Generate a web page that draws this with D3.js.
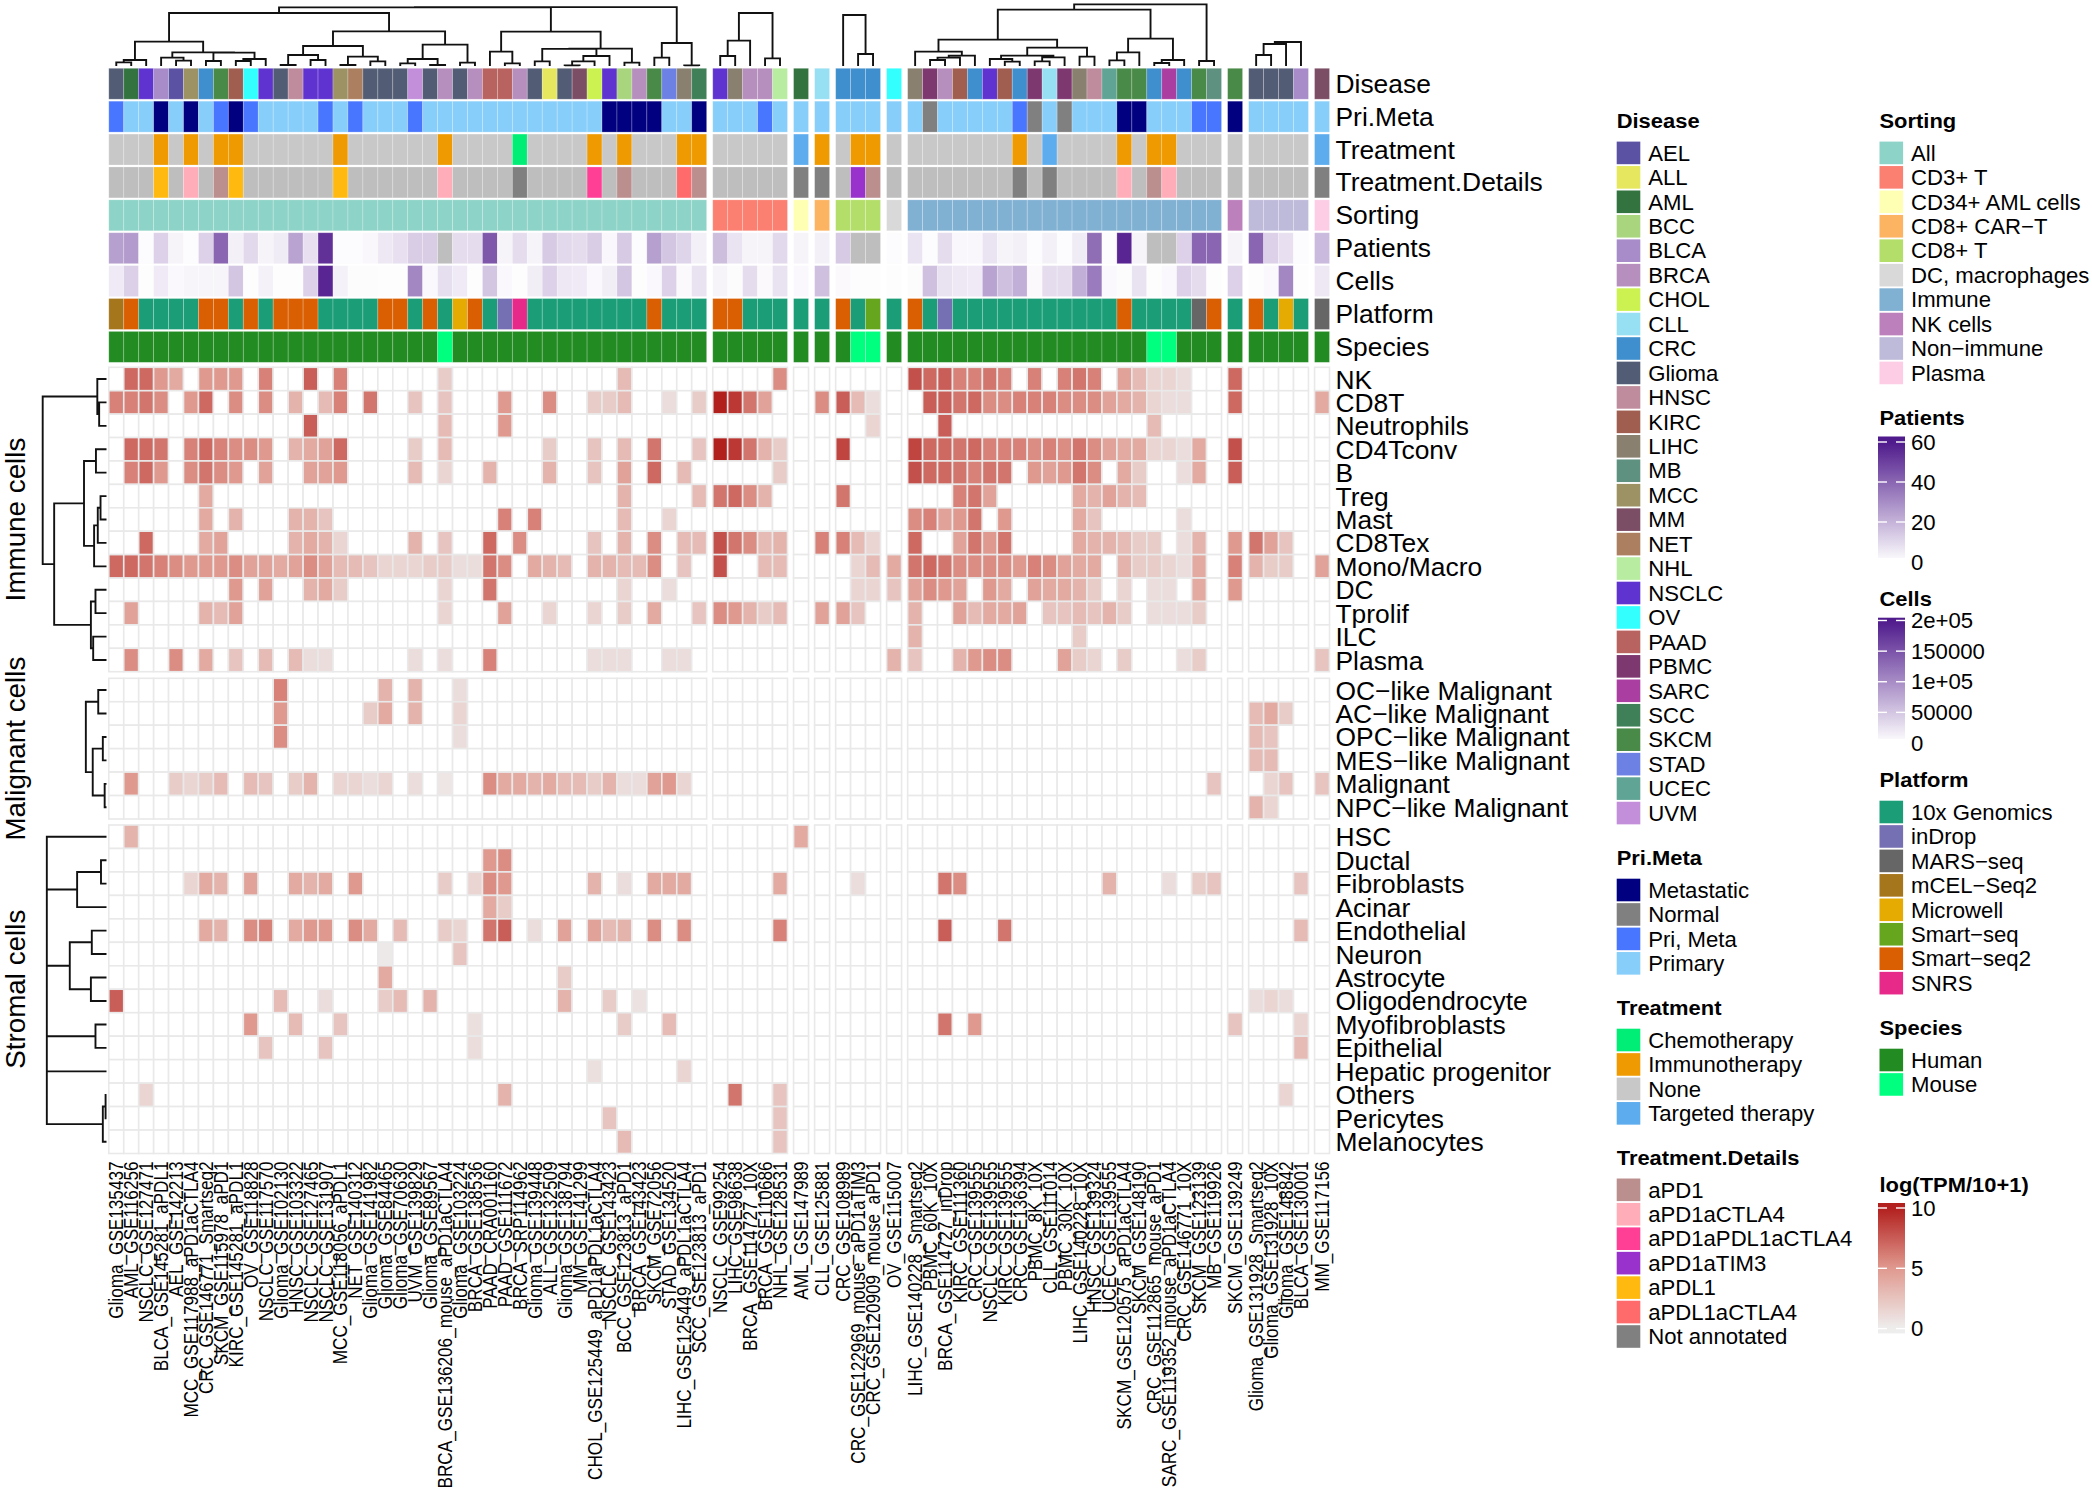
<!DOCTYPE html>
<html><head><meta charset="utf-8">
<script src="https://cdn.jsdelivr.net/npm/d3@7"></script>
<style>html,body{margin:0;background:#fff}svg{display:block}text{font-family:"Liberation Sans",Arial,sans-serif;fill:#000}</style>
</head><body><svg id="c" width="2092" height="1492"></svg>
<script>
// ---------- columns ----------
const blockSizes=[40,5,1,1,3,1,21,1,4,1];
const datasets=["Glioma_GSE135437","AML_GSE116256","NSCLC_GSE127471","BLCA_GSE145281_aPDL1","AEL_GSE142213","MCC_GSE117988_aPD1aCTLA4","CRC_GSE146771_Smartseq2","SKCM_GSE115978_aPD1","KIRC_GSE145281_aPDL1","OV_GSE118828","NSCLC_GSE117570","Glioma_GSE102130","HNSC_GSE103322","NSCLC_GSE127465","NSCLC_GSE131907","MCC_GSE118056_aPDL1","NET_GSE140312","Glioma_GSE141982","Glioma_GSE84465","Glioma_GSE70630","UVM_GSE139829","Glioma_GSE89567","BRCA_GSE136206_mouse_aPD1aCTLA4","Glioma_GSE103224","BRCA_GSE138536","PAAD_CRA001160","PAAD_GSE111672","BRCA_SRP114962","Glioma_GSE139448","ALL_GSE132509","Glioma_GSE138794","MM_GSE141299","CHOL_GSE125449_aPD1aPDL1aCTLA4","NSCLC_GSE143423","BCC_GSE123813_aPD1","BRCA_GSE143423","SKCM_GSE72056","STAD_GSE134520","LIHC_GSE125449_aPDL1aCTLA4","SCC_GSE123813_aPD1",
"NSCLC_GSE99254","LIHC_GSE98638","BRCA_GSE114727_10X","BRCA_GSE110686","NHL_GSE128531",
"AML_GSE147989","CLL_GSE125881",
"CRC_GSE108989","CRC_GSE122969_mouse_aPD1aTIM3","CRC_GSE120909_mouse_aPD1","OV_GSE115007",
"LIHC_GSE140228_Smartseq2","PBMC_60K_10X","BRCA_GSE114727_inDrop","KIRC_GSE111360","CRC_GSE139555","NSCLC_GSE139555","KIRC_GSE139555","CRC_GSE136394","PBMC_8K_10X","CLL_GSE111014","PBMC_30K_10X","LIHC_GSE140228_10X","HNSC_GSE139324","UCEC_GSE139555","SKCM_GSE120575_aPD1aCTLA4","SKCM_GSE148190","CRC_GSE112865_mouse_aPD1","SARC_GSE119352_mouse_aPD1aCTLA4","CRC_GSE146771_10X","SKCM_GSE123139","MB_GSE119926",
"SKCM_GSE139249","Glioma_GSE131928_Smartseq2","Glioma_GSE131928_10X","Glioma_GSE148842","BLCA_GSE130001","MM_GSE117156"];

// ---------- categorical annotation ----------
const diseaseLabels=["AEL","ALL","AML","BCC","BLCA","BRCA","CHOL","CLL","CRC","Glioma","HNSC","KIRC","LIHC","MB","MCC","MM","NET","NHL","NSCLC","OV","PAAD","PBMC","SARC","SCC","SKCM","STAD","UCEC","UVM"];
const diseaseColors=["#5B52A3","#E6E65F","#33733F","#A8D57E","#A78CC9","#B78FBE","#CBF250","#97DFF3","#3F8FCE","#525C74","#BE8C9C","#A05E50","#8A8070","#5F9180","#9C9264","#7C4E66","#AC7F60","#B8ECA0","#5F33CF","#33FFFF","#B8635F","#7E3870","#AB3FA1","#3F8058","#4A8A48","#6D80E3","#5FA495","#C38FDB"];
const diseaseOfColumn=["Glioma","AML","NSCLC","BLCA","AEL","MCC","CRC","SKCM","KIRC","OV","NSCLC","Glioma","HNSC","NSCLC","NSCLC","MCC","NET","Glioma","Glioma","Glioma","UVM","Glioma","BRCA","Glioma","BRCA","PAAD","PAAD","BRCA","Glioma","ALL","Glioma","MM","CHOL","NSCLC","BCC","BRCA","SKCM","STAD","LIHC","SCC",
"NSCLC","LIHC","BRCA","BRCA","NHL","AML","CLL","CRC","CRC","CRC","OV",
"LIHC","PBMC","BRCA","KIRC","CRC","NSCLC","KIRC","CRC","PBMC","CLL","PBMC","LIHC","HNSC","UCEC","SKCM","SKCM","CRC","SARC","CRC","SKCM","MB",
"SKCM","Glioma","Glioma","Glioma","BLCA","MM"];

const priMetaLabels=["Metastatic","Normal","Pri, Meta","Primary"];
const priMetaColors=["#000080","#808080","#4876FF","#87CEFA"];
const priMetaCodes={M:"Metastatic",N:"Normal",B:"Pri, Meta",P:"Primary"};
const priMetaOfColumn="BPPMPMPBMB PPPPBPBPPP BPPPPPPPPP PPPMMMMPPM PPPBP P P PPP P PNPPPPPBNP NPPPMMPPPBB M PPPP P".replace(/ /g,"");

const treatmentLabels=["Chemotherapy","Immunotherapy","None","Targeted therapy"];
const treatmentColors=["#00EE76","#EE9A00","#C8C8C8","#5CACEE"];
const treatmentCodes={C:"Chemotherapy",I:"Immunotherapy",N:"None",T:"Targeted therapy"};
const treatmentOfColumn="NNNININIIN NNNNN INNNN NNINN NNCNN NNINI NNNII NNNNN T I NII N NNNNNNNINT NNNNINIINNN N NNNN T".replace(/ /g,"");

const detailLabels=["aPD1","aPD1aCTLA4","aPD1aPDL1aCTLA4","aPD1aTIM3","aPDL1","aPDL1aCTLA4","Not annotated"];
const detailColors=["#BC8F8F","#FFAEB9","#FF3E96","#9932CC","#FFB90F","#FF6A6A","#808080"];
const detailCodes={a:"aPD1",b:"aPD1aCTLA4",c:"aPD1aPDL1aCTLA4",d:"aPD1aTIM3",e:"aPDL1",f:"aPDL1aCTLA4",n:"Not annotated"};
const detailOfColumn="---e-b-ae- ----- e---- --b-- --n-- --c-a ---fa ----- n n -da - -------n-n ----b-ab--- - ---- n".replace(/ /g,"");
const missingColor="#BEBEBE";

const sortingLabels=["All","CD3+ T","CD34+ AML cells","CD8+ CAR\u2212T","CD8+ T","DC, macrophages","Immune","NK cells","Non\u2212immune","Plasma"];
const sortingColors=["#8DD3C7","#FB8072","#FFFFB3","#FDB462","#B3DE69","#D9D9D9","#80B1D3","#BC80BD","#BEBADA","#FCCDE5"];
const sortingOfBlock=sortingLabels; // each column block holds one sorting level, in legend order

const platformLabels=["10x Genomics","inDrop","MARS\u2212seq","mCEL\u2212Seq2","Microwell","Smart\u2212seq","Smart\u2212seq2","SNRS"];
const platformColors=["#1B9E77","#7570B3","#666666","#A6761D","#E6AB02","#66A61E","#D95F02","#E7298A"];
const platformCodes={x:platformLabels[0],i:platformLabels[1],m:platformLabels[2],c:platformLabels[3],w:platformLabels[4],s:platformLabels[5],S:platformLabels[6],n:platformLabels[7]};
const platformOfColumn="cSxxxxSSxS xSSSx xxxSS xSxwS xinxx xxxxx xSxxx SSxxx x x Sxs x Sxixxxxxxx xxxxSxxxxmS x Sxwx m".replace(/ /g,"");

const speciesLabels=["Human","Mouse"];
const speciesColors=["#228B22","#00FF7F"];
const speciesOfColumn="hhhhhhhhhh hhhhhhhhhh hhmhh hhhhh hhhhh hhhhh hhhhh h h hmm h hhhhhhhhhh hhhhhhmmhhh h hhhh h".replace(/ /g,"");

// ---------- numeric annotation ----------
const patients=[25,26,1,12,3,1,12,40,4,10,3,5,24,8,54,1,1,2,6,8,13,13,null,9,9,44,3,9,3,14,10,9,13,2,14,1,25,15,11,4,
17,7,3,3,10, 3, 4, 14,null,null, 1,
7,1,9,2,2,7,3,4,1,4,1,5,38,1,57,3,null,null,12,40,40, 3, 40,12,8,1, 18];
const cellCounts=[18000,41000,2000,18000,6000,9000,9000,9000,50000,2000,12000,2000,2000,40000,190000,12000,3000,3000,2000,2000,105000,6000,28000,18000,2000,50000,6000,2000,15000,40000,20000,18000,6000,15000,50000,2000,6000,40000,5000,25000,
10000,3000,30000,5000,25000, 6000, 55000, 5000,2000,2000, 2000,
3000,55000,25000,20000,18000,80000,55000,70000,5000,30000,30000,70000,115000,6000,3000,25000,2000,6000,40000,30000,2000, 40000, 2000,6000,105000,2000, 20000];

// ---------- expression, keyed by 1-based column ----------
const NK={2:7,3:7,4:5,5:4,7:5,8:5,9:5,11:6,14:7.5,16:6,23:2,35:3,45:5.5,52:8,53:7,54:7.5,55:6,56:6,57:6.5,58:6,60:6,62:6,63:6.5,64:6,66:4.5,67:3,68:1.5,69:1.5,70:1,73:7};
const CD8T={1:6,2:6,3:6.5,4:5.5,6:5,7:7,9:5.5,11:5.5,13:3.5,15:3,16:6,18:6.5,21:2.5,23:2.5,27:5,30:5.5,33:2,34:2,35:3,38:1,40:2,41:10,42:9,43:6.5,44:4.5,47:5.5,48:7.5,49:3,50:1,53:7.5,54:7.5,55:6.5,56:7,57:5.5,58:5.5,59:6,60:6,61:6,62:5.5,63:5.5,64:5.5,65:4.5,66:4,67:3.5,68:1.5,69:1,70:1,73:7,78:4};
const Neutrophils={14:7.5,23:3,27:5,50:1.5,54:7.5,68:3};
const CD4Tconv={2:7,3:7,4:6.5,6:6,7:7,8:6,9:5.5,10:5.5,11:5,13:3.5,14:4,15:4.5,16:7,21:2,23:3,30:2,33:2.5,35:3,37:6.5,40:2.5,41:10,42:9,43:6.5,44:3.5,45:2,48:8.5,52:8.5,53:7,54:7,55:6.5,56:7,57:6,58:6,59:6,60:5.5,61:6,62:5.5,63:6.5,64:5.5,65:4.5,66:4,67:4,68:1.5,69:1.5,70:1,71:4,73:8};
const Bcell={2:6,3:7,4:5,6:5.5,7:6.5,8:5.5,9:5,11:4.5,14:4.5,15:4.5,16:5,21:3,23:1.5,26:3.5,30:3.5,33:2.5,35:4.5,37:7,39:3,45:2,52:8,53:7,54:7,55:6.5,56:6,57:6.5,58:6.5,60:5,61:4.5,62:5,63:6.5,64:5.5,66:4,67:2,70:1,71:4,73:7.5};
const Treg={7:4,35:3.5,40:3,41:6.5,42:7,43:5.5,44:3.5,48:6.5,55:6,56:6.5,57:4.5,63:4,64:3.5,65:4.5,66:3.5,67:3};
const Mast={7:4,9:3.5,13:3.5,14:3.5,15:2.5,27:6,29:6,35:3,38:1.5,52:5.5,53:6,54:4.5,55:5,56:6.5,58:5,63:4,64:2.5,70:1};
const CD8Tex={3:7,7:4,8:4.5,13:3.5,14:4,15:3.5,16:1.5,21:3.5,23:2.5,26:7,28:5.5,33:2.5,35:3.5,37:5.5,39:3,40:3,41:8,42:6.5,43:5.5,44:3,45:3.5,47:6,48:6,49:3,50:1.5,52:7,55:4.5,56:6.5,57:5,58:6.5,63:4,64:3.5,65:3.5,66:3,67:2,68:2,70:1,71:3.5,73:5,74:6.5,75:4.5,76:2.5};
const MonoMacro={1:7,2:7,3:6.5,4:6,5:5.5,6:5,7:5,8:5,9:5.5,10:4.5,11:4.5,12:4,13:4.5,14:5.5,15:4.5,16:3,17:3,18:2.5,19:1.5,20:1.5,21:1.5,22:2,23:2,24:1,25:1,26:6.5,27:5.5,29:4,30:3.5,31:3,33:3.5,34:3.5,35:3,36:3,37:5.5,39:2.5,41:8,44:3,45:3,49:1.5,50:3,51:4,52:6.5,53:7,54:6.5,55:5.5,56:5.5,57:5.5,58:5.5,59:5,60:6,61:5.5,62:4.5,63:4,64:4,66:3.5,67:2,68:2,69:1.5,70:1,71:4,73:6,74:3.5,75:2,76:2,78:4.5};
const DC={9:5,11:4.5,14:3.5,15:4,16:2,23:1.5,26:6.5,35:1.5,38:1,49:1.5,50:1.5,51:2.5,52:4.5,53:5.5,54:5,55:4.5,57:5,58:4,60:4.5,61:4,62:4,63:3.5,64:2,66:1.5,68:1,69:1,71:4,73:5};
const Tprolif={2:4.5,7:3.5,8:3,9:4.5,23:1.5,27:4.5,30:1.5,33:1.5,35:2,37:4,40:2.5,41:5.5,42:5,43:3.5,44:2,45:3,47:4.5,48:4.5,49:2.5,52:3.5,55:4.5,56:3,57:4,58:4,59:4.5,61:2.5,62:2.5,63:3,64:2.5,65:3.5,66:2,68:1,69:1,70:1,71:2};
const ILC={52:3.5,63:2};
const Plasma={2:5.5,5:5.5,7:4,9:2.5,11:3,13:3,14:1,15:1,21:1,23:1,26:6,33:1,34:1,35:1,38:1,39:1,51:3.5,52:2.5,55:3.5,56:5,57:5.5,58:5.5,62:4.5,63:2,64:1.5,66:2,70:1,71:2,78:2.5};
const OCLike={12:6,19:3.5,21:3.5,24:1};
const ACLike={12:5,18:2,19:4,21:3.5,24:1.5,74:3,75:4,76:2};
const OPCLike={12:5.5,24:1,74:3,75:2.5};
const MESLike={74:3,75:3};
const Malignant={2:5,5:2,6:1.5,7:2,8:3,10:3,11:2.5,13:2,14:3.5,16:1.5,17:1.5,18:1,19:1.5,21:1,23:.5,26:5.5,27:4,28:4,29:3.5,30:4,31:3,32:3,33:2,34:3.5,35:1,36:1,37:4.5,38:5,39:1.5,72:2.5,75:1.5,76:2.5,78:2.5};
const NPCLike={74:3.5,75:1.5};
const HSC={2:3.5,46:4};
const Ductal={26:5,27:5.5};
const Fibroblasts={6:1.5,7:4,8:3.5,10:4.5,13:4,14:3.5,15:4,17:5,23:2,25:1.5,26:5.5,27:5,33:3.5,35:1,37:4,38:4,39:4,45:4,49:1,54:6.5,55:5.5,65:3.5,69:1,71:2,72:2.5,77:2.5};
const Acinar={26:4,27:2};
const Endothelial={7:4,8:3.5,10:5.5,11:6,13:4,14:5,15:5,17:5.5,18:4,20:3,23:2,24:1.5,26:6.5,27:7.5,29:1,31:4.5,33:4.5,34:3,35:3.5,37:5.5,39:5.5,45:6,54:7.5,58:6.5,77:3};
const Neuron={19:.3,24:2.5};
const Astrocyte={19:4,31:2};
const Oligodendrocyte={1:7.5,12:3,15:1,19:2,20:3,22:3.5,31:3.5,34:2,36:.7,74:1,75:1.5,76:1};
const Myofibroblasts={10:5,13:3,16:2.5,25:.8,35:2,38:3,54:6.5,56:5,73:2.5,77:1.5};
const Epithelial={11:2.5,15:2.5,25:1,77:3};
const HepaticProgenitor={33:.8,39:1.5};
const Others={3:1.5,27:3.5,42:6.5,45:2.5,76:1.5};
const Pericytes={34:2.5,45:2.5};
const Melanocytes={35:3,45:2.5};

const rowGroups=[
 {title:"Immune cells",rows:[["NK",NK],["CD8T",CD8T],["Neutrophils",Neutrophils],["CD4Tconv",CD4Tconv],["B",Bcell],["Treg",Treg],["Mast",Mast],["CD8Tex",CD8Tex],["Mono/Macro",MonoMacro],["DC",DC],["Tprolif",Tprolif],["ILC",ILC],["Plasma",Plasma]],
  tree:[139,[20,1,[16,2,3]],[114,[49,[23,4,5],[27,[19,[13,6,7],8],9]],[34,[24,10,11],[29,12,13]]]]},
 {title:"Malignant cells",rows:[["OC\u2212like Malignant",OCLike],["AC\u2212like Malignant",ACLike],["OPC\u2212like Malignant",OPCLike],["MES\u2212like Malignant",MESLike],["Malignant",Malignant],["NPC\u2212like Malignant",NPCLike]],
  tree:[45,[18,1,2],[30,[8,3,4],[4,5,6]]]},
 {title:"Stromal cells",rows:[["HSC",HSC],["Ductal",Ductal],["Fibroblasts",Fibroblasts],["Acinar",Acinar],["Endothelial",Endothelial],["Neuron",Neuron],["Astrocyte",Astrocyte],["Oligodendrocyte",Oligodendrocyte],["Myofibroblasts",Myofibroblasts],["Epithelial",Epithelial],["Hepatic progenitor",HepaticProgenitor],["Others",Others],["Pericytes",Pericytes],["Melanocytes",Melanocytes]],
  tree:[130,1,[130,[64,[12,2,3],4],[130,[80,[32,5,6],[34,7,8]],[130,[24,9,10],[130,11,[8,[2,12,13],14]]]]]]}
];
// column dendrograms per block: [height,left,right], leaves are block-local column numbers
const columnTrees={
 0:[176.5,[176,[159,[73,[18,[11,1,2],3],[41,[25,4,[16,5,6]],[40,[15,7,8],[21,[15,9,10],11]]]],
   [104,[60,[33,[3,12,13],[18,14,15]],[28,[3,16,17],[14,18,19]]],[64,[21,[8,20,21],[3,22,23]],[10,24,25]]]],
   [103,[43,26,[8,27,28]],[52,[51.5,[14,29,30],[30,[14,[2,31,32],33],34]],[10,35,36]]]],[69,[25,37,38],[2,39,40]]],
 1:[159,[76,[30,1,2],3],[23,4,5]],
 4:[153,1,[36,2,3]],
 6:[185,[169,[79,[43,1,[31,[25,[18,2,3],4],5]],[55,[31,[21,6,[13,7,8]],[26,[14,9,10],11]],[28,12,13]]],[82,[41,[17,14,15],16],[18,[9,17,18],19]]],[15,20,21]],
 8:[72,[66,[33,1,2],3],4]
};

// ---------- scales ----------
const svg=d3.select("#c");
const L=108.8,R=1329.5,GAP=6.1,LABX=1335.5;
const colW=(R-L-GAP*(blockSizes.length-1))/datasets.length;
let off=0,cursor=L;
const blocks=blockSizes.map(n=>{const b={start:off,n,x0:cursor,x1:cursor+n*colW,
   x:d3.scaleBand().domain(d3.range(off,off+n)).range([cursor,cursor+n*colW])};off+=n;cursor=b.x1+GAP;return b;});
const annRowsY=d3.scaleBand().domain(d3.range(9)).range([68.3,68.3+32.67*9]).paddingInner(0.06).paddingOuter(0);
const heatColor=d3.scaleLinear().domain([0,5,10]).range(["#EEEEEE","#E0998F","#B2201E"]);
const purple=d3.scaleLinear().range(["#FFFFFF","#4F1A8C"]);
const patientColor=purple.copy().domain([0,60]), cellColor=purple.copy().domain([0,200000]);
const colorOf=(labels,colors)=>d3.scaleOrdinal(labels,colors);
const cDisease=colorOf(diseaseLabels,diseaseColors),cPri=colorOf(priMetaLabels,priMetaColors),cTreat=colorOf(treatmentLabels,treatmentColors),
 cDetail=colorOf(detailLabels,detailColors),cSort=colorOf(sortingLabels,sortingColors),cPlat=colorOf(platformLabels,platformColors);
const blockOfColumn=d3.range(datasets.length).map(i=>blocks.findIndex(b=>i>=b.start&&i<b.start+b.n));

const annotations=[
 ["Disease",i=>cDisease(diseaseOfColumn[i])],
 ["Pri.Meta",i=>cPri(priMetaCodes[priMetaOfColumn[i]])],
 ["Treatment",i=>cTreat(treatmentCodes[treatmentOfColumn[i]])],
 ["Treatment.Details",i=>detailOfColumn[i]==="-"?missingColor:cDetail(detailCodes[detailOfColumn[i]])],
 ["Sorting",i=>cSort(sortingOfBlock[blockOfColumn[i]])],
 ["Patients",i=>patients[i]==null?missingColor:patientColor(patients[i])],
 ["Cells",i=>cellColor(cellCounts[i])],
 ["Platform",i=>cPlat(platformCodes[platformOfColumn[i]])],
 ["Species",i=>speciesColors[speciesOfColumn[i]==="h"?0:1]]
];

function label(g,str,x,y,o={}){
 const {size=20,sx=1,anchor="start",weight="normal",rot=0,dy=.36}=o;
 return g.append("text").text(str).attr("transform",`translate(${x},${y}) rotate(${rot}) scale(${sx},1)`)
  .attr("text-anchor",anchor).attr("font-size",size).attr("font-weight",weight).attr("dy",dy+"em");
}
const columnX=i=>blocks[blockOfColumn[i]].x(i);

// annotation tracks
const gA=svg.append("g");
annotations.forEach(([name,fill],r)=>{
 gA.append("g").selectAll("rect").data(d3.range(datasets.length)).join("rect")
  .attr("x",columnX).attr("width",colW).attr("y",annRowsY(r)).attr("height",annRowsY.bandwidth())
  .attr("fill",fill).attr("stroke","rgba(255,255,255,.28)").attr("stroke-width",.8);
 label(gA,name,LABX,annRowsY(r)+annRowsY.bandwidth()/2-.5,{size:26.4});
});

// heat map
const heatRanges=[[367.3,671.7],[678.3,819],[825,1153.5]];
const gH=svg.append("g");
const cols=d3.range(datasets.length);
rowGroups.forEach((grp,gi)=>{
 const y=d3.scaleBand().domain(d3.range(grp.rows.length)).range(heatRanges[gi]);
 grp.rows.forEach(([name,vals],r)=>{
  gH.append("g").selectAll("rect").data(cols).join("rect")
   .attr("x",columnX).attr("width",colW).attr("y",y(r)).attr("height",y.bandwidth())
   .attr("fill",i=>vals[i+1]==null?"#FFFFFF":heatColor(vals[i+1]))
   .attr("stroke","#E9E9E9").attr("stroke-width",1.6);
  label(gH,name,LABX,y(r)+y.bandwidth()/2,{size:26.4});
 });
 // row title
 label(svg,grp.title,25,(heatRanges[gi][0]+heatRanges[gi][1])/2,{size:27.8,rot:-90,anchor:"middle",dy:0});
 // row dendrogram
 const hx=d3.scaleLinear().domain([0,232]).range([106.5,0]);
 const p=d3.path();
 (function walk(n){
  if(typeof n==="number") return {pos:y(n-1)+y.bandwidth()/2,h:0};
  const a=walk(n[1]),b=walk(n[2]);
  p.moveTo(hx(a.h),a.pos);p.lineTo(hx(n[0]),a.pos);p.lineTo(hx(n[0]),b.pos);p.lineTo(hx(b.h),b.pos);
  return {pos:(a.pos+b.pos)/2,h:n[0]};
 })(grp.tree);
 svg.append("path").attr("d",p.toString()).attr("fill","none").attr("stroke","#111").attr("stroke-width",1.9);
});

// column dendrograms
const hy=d3.scaleLinear().domain([0,198]).range([66,0]);
Object.entries(columnTrees).forEach(([bi,tree])=>{
 const b=blocks[+bi],p=d3.path();
 (function walk(n){
  if(typeof n==="number") return {pos:b.x(b.start+n-1)+colW/2,h:0};
  const a=walk(n[1]),c=walk(n[2]);
  p.moveTo(a.pos,hy(a.h));p.lineTo(a.pos,hy(n[0]));p.lineTo(c.pos,hy(n[0]));p.lineTo(c.pos,hy(c.h));
  return {pos:(a.pos+c.pos)/2,h:n[0]};
 })(tree);
 svg.append("path").attr("d",p.toString()).attr("fill","none").attr("stroke","#111").attr("stroke-width",1.9);
});

// column labels
const gX=svg.append("g");
datasets.forEach((d,i)=>label(gX,d,columnX(i)+colW/2,1161.5,{size:19.4,sx:.885,rot:-90,anchor:"end",dy:.36}));

// legends
const gL=svg.append("g");
const PITCH=24.45;
function discrete(title,x,titleY,firstY,labels,colors){
 label(gL,title,x,titleY,{size:20.5,sx:1.07,weight:"bold"});
 labels.forEach((t,i)=>{
  const cy=firstY+i*PITCH;
  gL.append("rect").attr("x",x).attr("width",23.6).attr("y",cy-11.3).attr("height",22.6).attr("fill",colors[i]);
  label(gL,t,x+31.5,cy,{size:21.5,sx:1.03});
 });
}
const LX1=1616.7,LX2=1879.5;
discrete("Disease",LX1,121,152.9,diseaseLabels,diseaseColors);
discrete("Pri.Meta",LX1,858,890,priMetaLabels,priMetaColors);
discrete("Treatment",LX1,1007.7,1040,treatmentLabels,treatmentColors);
discrete("Treatment.Details",LX1,1157.8,1189.8,detailLabels,detailColors);
discrete("Sorting",LX2,121,152.9,sortingLabels,sortingColors);
discrete("Platform",LX2,780,812,platformLabels,platformColors);
discrete("Species",LX2,1028,1060,speciesLabels,speciesColors);

const defs=svg.append("defs");
function colorbar(id,title,titleY,barTop,barBottom,domain,tickRange,ticks,tickText,color){
 label(gL,title,LX2,titleY,{size:20.5,sx:1.07,weight:"bold"});
 const s=d3.scaleLinear().domain(domain).range(tickRange).clamp(true);
 const grad=defs.append("linearGradient").attr("id",id).attr("x1",0).attr("x2",0).attr("y1",0).attr("y2",1);
 d3.range(0,1.0001,.05).forEach(f=>grad.append("stop").attr("offset",f).attr("stop-color",color(s.invert(barTop+f*(barBottom-barTop)))));
 gL.append("rect").attr("x",1878).attr("width",27).attr("y",barTop).attr("height",barBottom-barTop).attr("fill",`url(#${id})`);
 ticks.forEach((t,i)=>{
  [[1878,1887],[1896,1905]].forEach(([a,b])=>gL.append("line").attr("x1",a).attr("x2",b).attr("y1",s(t)).attr("y2",s(t)).attr("stroke","#fff").attr("stroke-width",1.4));
  label(gL,tickText[i],1911,s(t),{size:21.5,sx:1.03});
 });
}
const patientTicks=[0,20,40,60],cellTicks=[0,50000,100000,150000,200000],exprTicks=[0,5,10];
colorbar("gP","Patients",418,436.5,558,[0,60],[562,442],patientTicks,["0","20","40","60"],patientColor);
colorbar("gC","Cells",598.8,617.7,739,[0,200000],[743,620.5],cellTicks,["0","50000","1e+05","150000","2e+05"],cellColor);
colorbar("gE","log(TPM/10+1)",1184.7,1203,1333.4,[0,10],[1328.6,1208],exprTicks,["0","5","10"],heatColor);
</script></body></html>
